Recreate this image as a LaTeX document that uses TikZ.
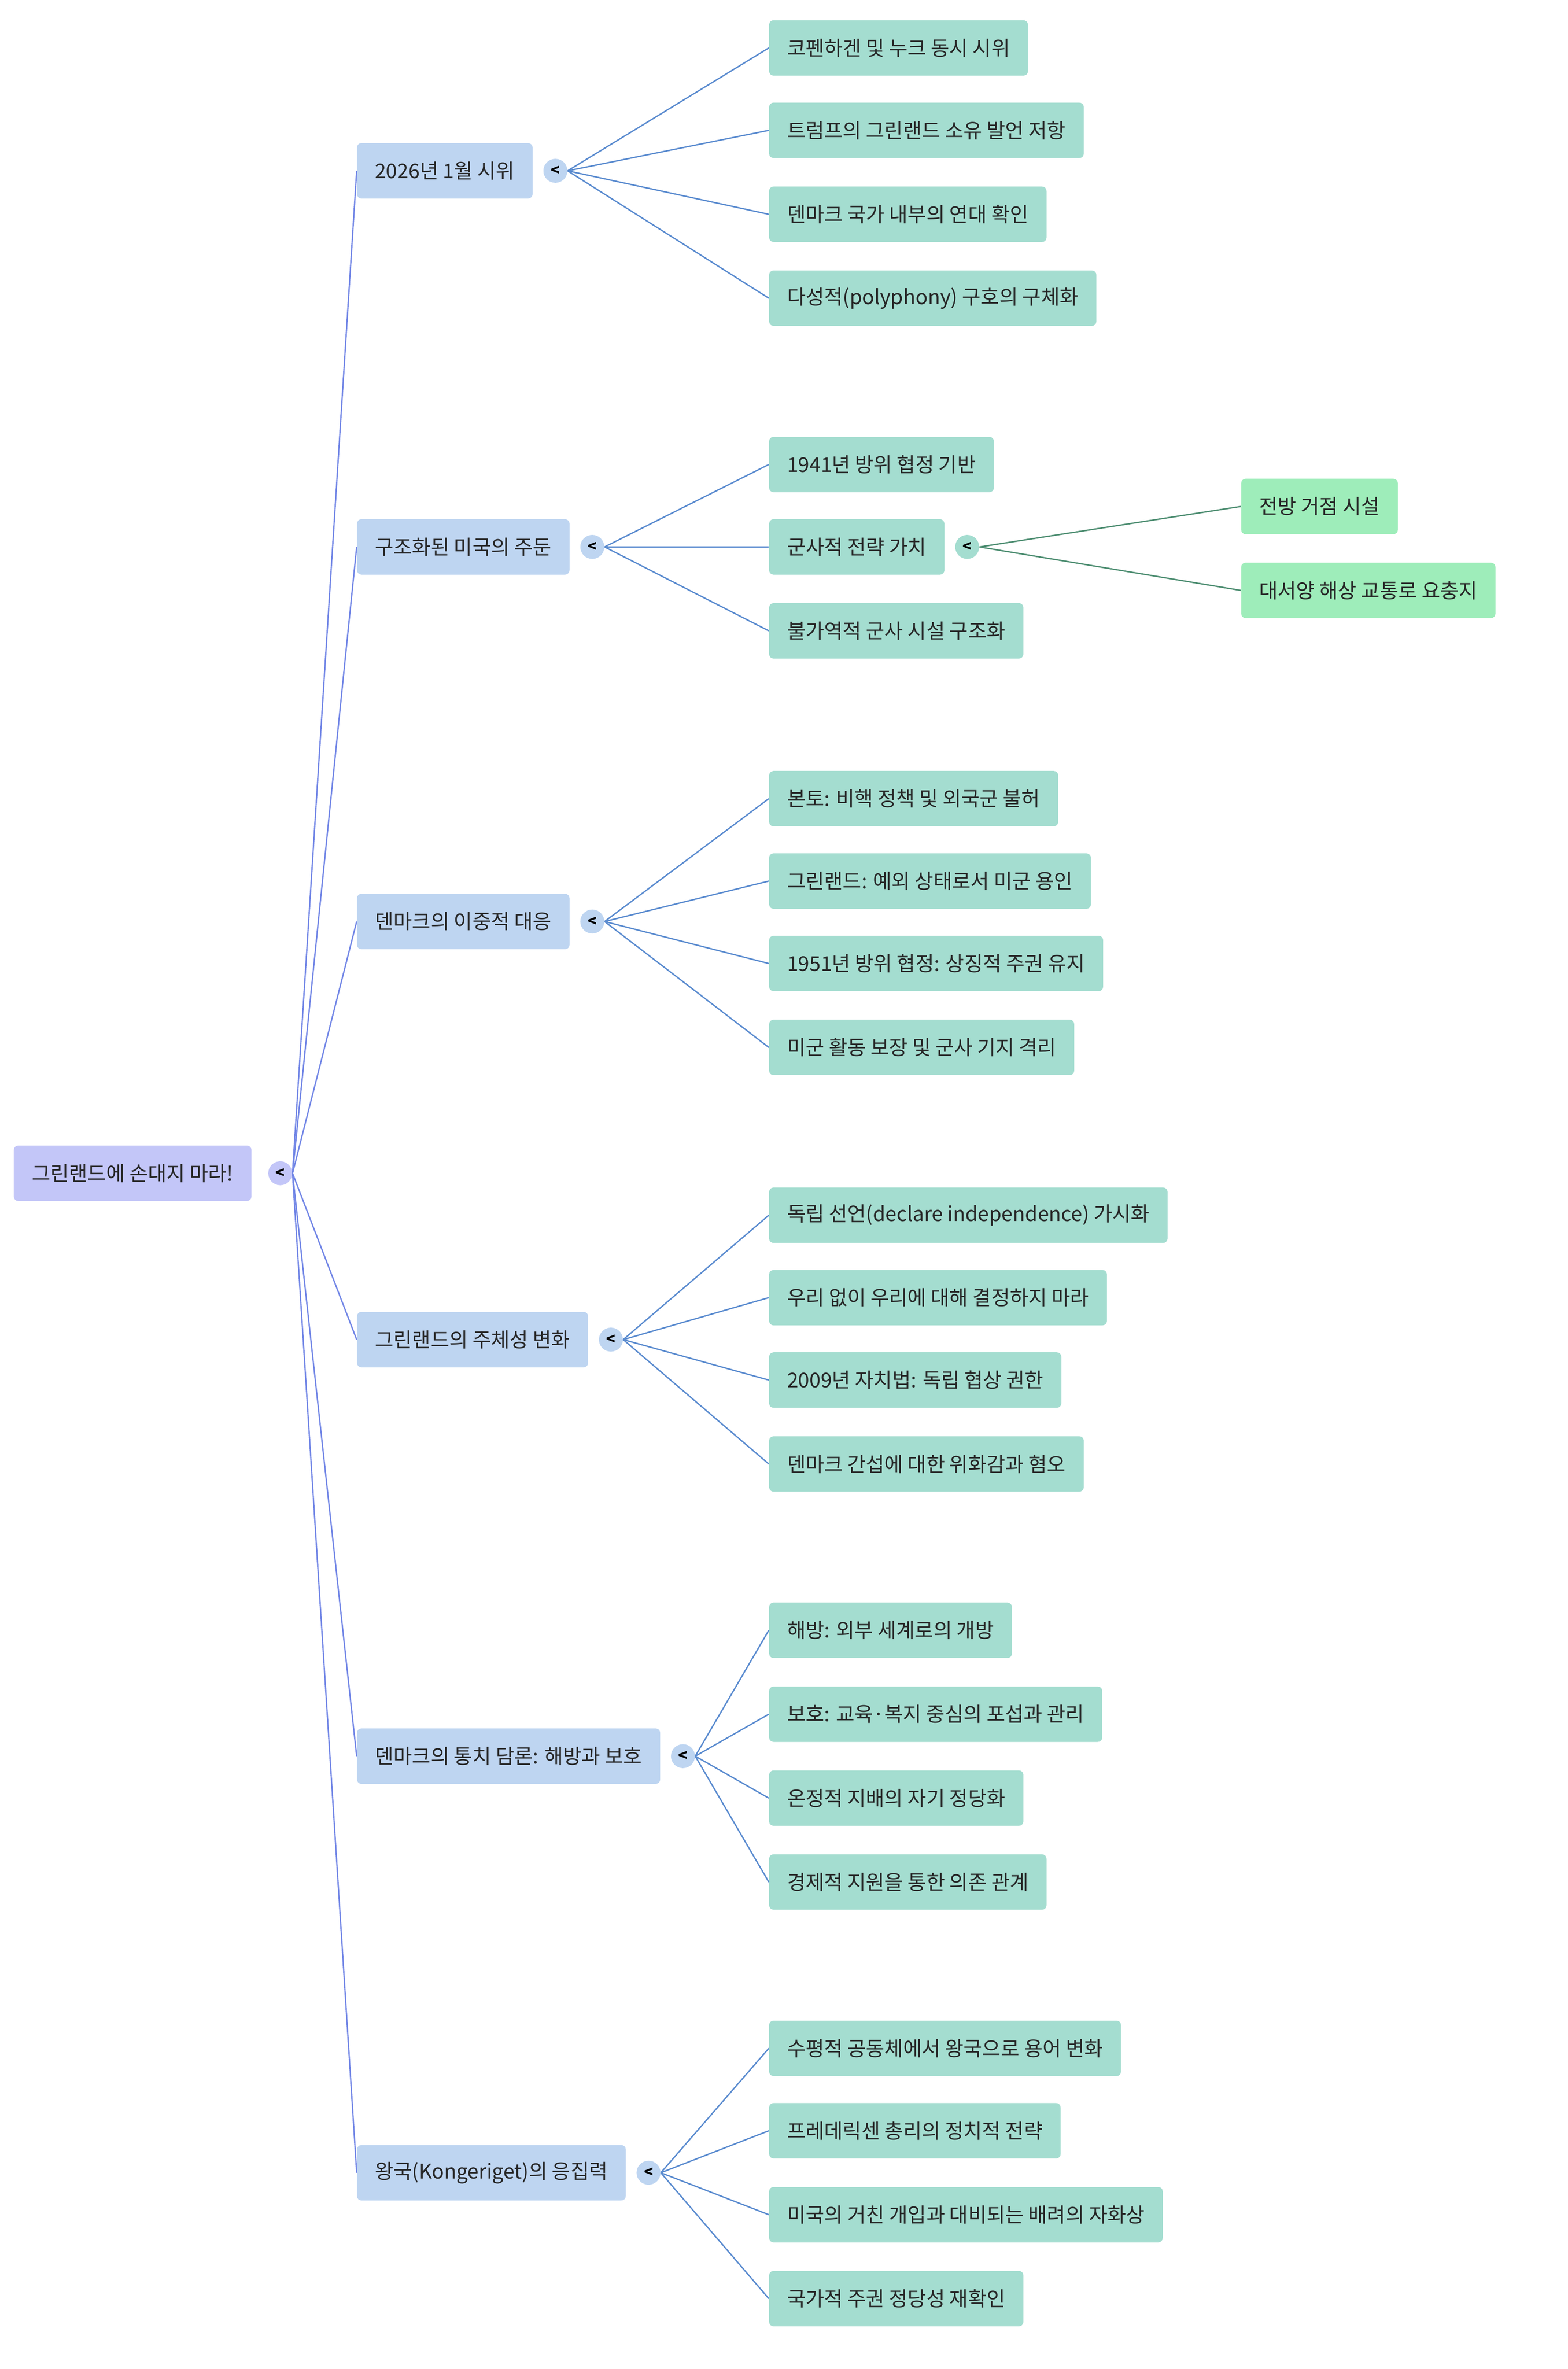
\documentclass[tikz,border=0pt]{standalone}
\usepackage{fontspec}
\setmainfont{Noto Sans CJK KR}
\begin{document}
\begin{tikzpicture}[x=1pt,y=-1pt,
 box/.style={anchor=west,rounded corners=3pt,minimum height=37pt,inner xsep=12pt,font=\fontsize{13.5}{16}\selectfont,text=black!85},
 r/.style={box,fill=rootc}, a/.style={box,fill=l1c}, b/.style={box,fill=l2c}, c/.style={box,fill=l3c},
 tg/.style={circle,inner sep=0pt,minimum size=16pt,font=\fontsize{10}{10}\selectfont\bfseries},
 e0/.style={draw=e0c,line width=0.9pt}, e1/.style={draw=e1c,line width=0.9pt}, e2/.style={draw=e2c,line width=0.9pt}]
\definecolor{rootc}{HTML}{C3C6F8}\definecolor{l1c}{HTML}{BED5F1}\definecolor{l2c}{HTML}{A4DDD0}\definecolor{l3c}{HTML}{9EEDBA}
\definecolor{e0c}{HTML}{7387E6}\definecolor{e1c}{HTML}{5A8BCF}\definecolor{e2c}{HTML}{4E8E72}
\useasboundingbox (0,0) rectangle (1046,1581);
\node[r] (root) at (9,783) {그린랜드에 손대지 마라!};
\node[tg,fill=rootc] (rt) at (187,783) {<};
\newcommand\kid[4]{\node[#1] (#2) at (#3) {#4};}
\newcommand\lnk[3]{\draw[#1] (#2.east) .. controls ($(#2.east)!0.5!(#3.west)$ |- #2.east) and ($(#2.east)!0.5!(#3.west)$ |- #3.west) .. (#3.west);}
\usetikzlibrary{calc}
% level 1
\kid{a}{A}{238,114}{2026년 1월 시위}
\kid{a}{B}{238,365}{구조화된 미국의 주둔}
\kid{a}{C}{238,615}{덴마크의 이중적 대응}
\kid{a}{D}{238,894}{그린랜드의 주체성 변화}
\kid{a}{E}{238,1172}{덴마크의 통치 담론: 해방과 보호}
\kid{a}{F}{238,1450}{왕국(Kongeriget)의 응집력}
\foreach \n in {A,B,C,D,E,F}{\node[tg,fill=l1c] (t\n) at ($(\n.east)+(15,0)$) {<};}
% level 2
\kid{b}{A1}{513,32}{코펜하겐 및 누크 동시 시위}
\kid{b}{A2}{513,87}{트럼프의 그린랜드 소유 발언 저항}
\kid{b}{A3}{513,143}{덴마크 국가 내부의 연대 확인}
\kid{b}{A4}{513,199}{다성적(polyphony) 구호의 구체화}
\kid{b}{B1}{513,310}{1941년 방위 협정 기반}
\kid{b}{B2}{513,365}{군사적 전략 가치}
\kid{b}{B3}{513,421}{불가역적 군사 시설 구조화}
\kid{b}{C1}{513,533}{본토: 비핵 정책 및 외국군 불허}
\kid{b}{C2}{513,588}{그린랜드: 예외 상태로서 미군 용인}
\kid{b}{C3}{513,643}{1951년 방위 협정: 상징적 주권 유지}
\kid{b}{C4}{513,699}{미군 활동 보장 및 군사 기지 격리}
\kid{b}{D1}{513,811}{독립 선언(declare independence) 가시화}
\kid{b}{D2}{513,866}{우리 없이 우리에 대해 결정하지 마라}
\kid{b}{D3}{513,921}{2009년 자치법: 독립 협상 권한}
\kid{b}{D4}{513,977}{덴마크 간섭에 대한 위화감과 혐오}
\kid{b}{E1}{513,1088}{해방: 외부 세계로의 개방}
\kid{b}{E2}{513,1144}{보호: 교육·복지 중심의 포섭과 관리}
\kid{b}{E3}{513,1200}{온정적 지배의 자기 정당화}
\kid{b}{E4}{513,1256}{경제적 지원을 통한 의존 관계}
\kid{b}{F1}{513,1367}{수평적 공동체에서 왕국으로 용어 변화}
\kid{b}{F2}{513,1422}{프레데릭센 총리의 정치적 전략}
\kid{b}{F3}{513,1478}{미국의 거친 개입과 대비되는 배려의 자화상}
\kid{b}{F4}{513,1534}{국가적 주권 정당성 재확인}
\node[tg,fill=l2c] (tB2) at ($(B2.east)+(15,0)$) {<};
\kid{c}{G1}{828,338}{전방 거점 시설}
\kid{c}{G2}{828,394}{대서양 해상 교통로 요충지}
% edges
\begin{scope}[on background layer/.style={}]
\foreach \n in {A,B,C,D,E,F}{\lnk{e0}{rt}{\n}}
\foreach \k in {1,2,3,4}{\lnk{e1}{tA}{A\k}\lnk{e1}{tC}{C\k}\lnk{e1}{tD}{D\k}\lnk{e1}{tE}{E\k}\lnk{e1}{tF}{F\k}}
\foreach \k in {1,2,3}{\lnk{e1}{tB}{B\k}}
\lnk{e2}{tB2}{G1}\lnk{e2}{tB2}{G2}
\end{scope}
\end{tikzpicture}
\end{document}
